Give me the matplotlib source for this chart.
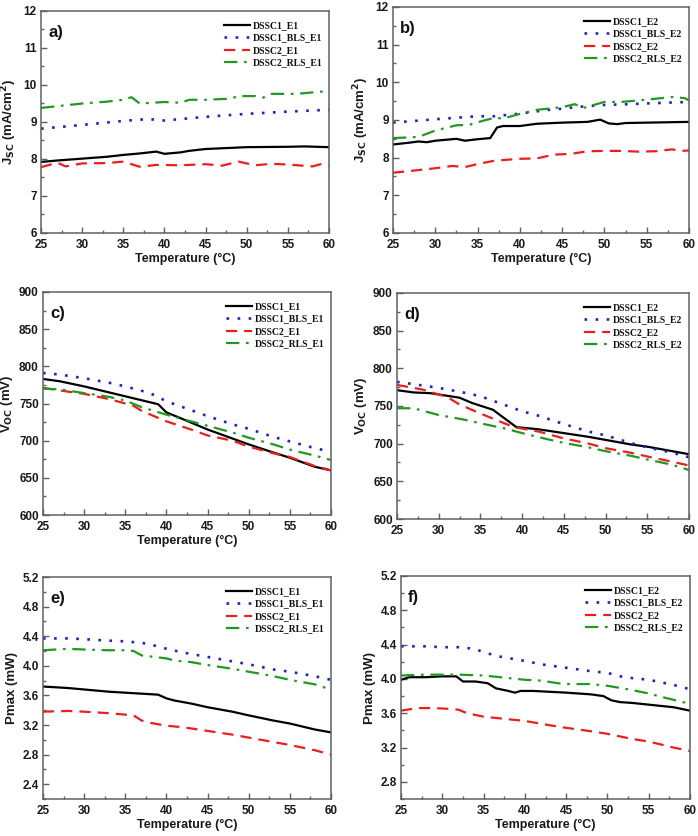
import matplotlib
matplotlib.use("Agg")
import matplotlib.pyplot as plt
from matplotlib.ticker import MultipleLocator, FuncFormatter

# ---------------- data ----------------
# Panel a: Jsc, E1
a_black_x = [25, 27, 30, 33, 35, 37, 39, 40, 42, 43, 45, 48, 50, 55, 57, 60]
a_black_y = [7.92, 7.96, 8.01, 8.06, 8.11, 8.15, 8.20, 8.14, 8.18, 8.22, 8.27, 8.30, 8.32, 8.33, 8.34, 8.32]
a_blue_x = [25, 30, 35, 38, 40, 45, 50, 55, 60]
a_blue_y = [8.82, 8.92, 9.03, 9.08, 9.04, 9.14, 9.22, 9.28, 9.33]
a_red_x = [25, 27, 28, 30, 33, 35, 37, 39, 42, 45, 47, 49, 51, 53, 55, 58, 59, 60]
a_red_y = [7.78, 7.90, 7.80, 7.88, 7.89, 7.93, 7.79, 7.84, 7.83, 7.86, 7.82, 7.93, 7.83, 7.87, 7.85, 7.80, 7.86, 7.83]
a_green_x = [25, 30, 33, 35, 36, 37, 40, 42, 43, 45, 48, 49, 51, 52, 53, 56, 60]
a_green_y = [9.38, 9.50, 9.55, 9.60, 9.67, 9.50, 9.54, 9.52, 9.60, 9.60, 9.63, 9.70, 9.70, 9.66, 9.76, 9.76, 9.84]

# Panel b: Jsc, E2
b_black_x = [25, 27, 28, 29, 30, 32.5, 33.5, 35, 36.5, 37.3, 38, 40, 42, 45, 48, 49.5, 50.5, 51.5, 52.5, 55, 60]
b_black_y = [8.35, 8.40, 8.43, 8.41, 8.45, 8.50, 8.45, 8.49, 8.52, 8.80, 8.84, 8.84, 8.90, 8.93, 8.95, 9.01, 8.91, 8.89, 8.92, 8.93, 8.95]
b_blue_x = [25, 30, 35, 37, 40, 43, 45, 47, 50, 53, 55, 60]
b_blue_y = [8.93, 9.02, 9.10, 9.10, 9.17, 9.26, 9.30, 9.35, 9.40, 9.42, 9.44, 9.48]
b_red_x = [25, 28, 30, 32, 33.5, 35, 37, 40, 42, 44, 46, 48, 50, 52, 54, 56, 58, 59, 60]
b_red_y = [7.60, 7.67, 7.72, 7.78, 7.75, 7.83, 7.92, 7.97, 7.98, 8.08, 8.10, 8.17, 8.18, 8.18, 8.16, 8.17, 8.22, 8.18, 8.19]
b_green_x = [25, 28, 30, 32.5, 34, 35, 37, 38, 40, 42, 45, 46.5, 47.5, 50, 52, 55, 58, 59.5, 60]
b_green_y = [8.52, 8.55, 8.72, 8.86, 8.87, 8.94, 9.06, 9.04, 9.16, 9.27, 9.34, 9.42, 9.32, 9.48, 9.48, 9.54, 9.61, 9.58, 9.52]

# Panel c: Voc, E1
c_black_x = [25, 27, 30, 33, 36, 39, 40, 42, 45, 47, 50, 53, 55, 58, 60]
c_black_y = [783, 780, 773, 765, 757, 749, 738, 729, 715, 707, 695, 684, 677, 665, 660]
c_blue_x = [25, 27, 30, 33, 35, 38, 40, 42, 45, 48, 50, 53, 55, 58, 60]
c_blue_y = [791, 789, 784, 778, 773, 764, 753, 745, 733, 722, 716, 705, 699, 690, 685]
c_red_x = [25, 28, 30, 33, 36, 37, 40, 43, 45, 48, 50, 53, 55, 58, 60]
c_red_y = [771, 766, 763, 756, 747, 740, 726, 715, 707, 700, 692, 683, 678, 666, 660]
c_green_x = [25, 27, 30, 33, 35, 37, 40, 42, 45, 48, 50, 53, 55, 58, 60]
c_green_y = [770, 769, 764, 759, 754, 745, 735, 729, 720, 711, 704, 695, 688, 680, 674]

# Panel d: Voc, E2
d_black_x = [25, 27, 29, 32.5, 34, 36.5, 39.3, 42, 45, 48, 50, 53, 55, 58, 60]
d_black_y = [771, 768, 767, 761, 754, 745, 722, 719, 714, 709, 705, 699, 696, 690, 686]
d_blue_x = [25, 27, 30, 32.5, 35, 37, 40, 42, 45, 48, 50, 53, 55, 58, 60]
d_blue_y = [782, 779, 774, 769, 763, 755, 743, 737, 726, 716, 711, 701, 695, 688, 682]
d_red_x = [25, 28, 31, 32.5, 35, 37, 39, 42, 45, 48, 50, 53, 55, 58, 60]
d_red_y = [778, 772, 762, 752, 740, 731, 722, 716, 707, 700, 694, 688, 683, 676, 671]
d_green_x = [25, 27, 28, 30, 33, 35, 38, 40, 43, 45, 48, 50, 53, 55, 58, 60]
d_green_y = [747, 747, 744, 738, 732, 727, 720, 714, 706, 701, 695, 690, 684, 679, 672, 665]

# Panel e: Pmax, E1
e_black_x = [25, 28, 30, 33, 36, 39, 40, 41, 43, 45, 48, 50, 53, 55, 58, 60]
e_black_y = [3.72, 3.70, 3.68, 3.65, 3.63, 3.61, 3.56, 3.53, 3.49, 3.44, 3.38, 3.33, 3.26, 3.22, 3.14, 3.10]
e_blue_x = [25, 28, 30, 33, 35, 37, 38, 40, 42, 45, 48, 50, 53, 55, 58, 60]
e_blue_y = [4.37, 4.37, 4.36, 4.34, 4.33, 4.31, 4.29, 4.23, 4.18, 4.12, 4.06, 4.02, 3.95, 3.92, 3.86, 3.81]
e_red_x = [25, 28, 30, 33, 35, 36, 37, 38, 40, 42, 45, 48, 50, 53, 55, 58, 60]
e_red_y = [3.38, 3.39, 3.38, 3.36, 3.34, 3.33, 3.26, 3.23, 3.19, 3.17, 3.12, 3.07, 3.03, 2.97, 2.93, 2.86, 2.80]
e_green_x = [25, 28, 30, 33, 35, 36, 37, 40, 41, 43, 45, 48, 50, 53, 55, 58, 60]
e_green_y = [4.21, 4.23, 4.22, 4.21, 4.21, 4.20, 4.14, 4.10, 4.07, 4.05, 4.01, 3.96, 3.92, 3.86, 3.81, 3.75, 3.68]

# Panel f: Pmax, E2
f_black_x = [25, 26, 28, 30, 31.7, 32.5, 34, 35.5, 36.5, 38, 38.8, 39.5, 41, 43, 45, 48, 49.5, 50.5, 51.5, 53, 55, 57, 58, 60]
f_black_y = [3.99, 4.02, 4.02, 4.03, 4.03, 3.97, 3.97, 3.95, 3.89, 3.86, 3.84, 3.86, 3.86, 3.85, 3.84, 3.82, 3.80, 3.75, 3.73, 3.72, 3.70, 3.68, 3.67, 3.63]
f_blue_x = [25, 28, 30, 32, 34, 35, 37, 40, 42, 45, 48, 50, 52, 55, 58, 60]
f_blue_y = [4.38, 4.38, 4.37, 4.37, 4.35, 4.31, 4.26, 4.21, 4.17, 4.13, 4.09, 4.07, 4.02, 3.99, 3.93, 3.88]
f_red_x = [25, 27, 29, 31, 32, 33, 35, 37, 40, 43, 45, 48, 50, 53, 55, 58, 60]
f_red_y = [3.63, 3.66, 3.66, 3.65, 3.64, 3.60, 3.56, 3.54, 3.51, 3.46, 3.43, 3.39, 3.36, 3.30, 3.27, 3.20, 3.16]
f_green_x = [25, 28, 30, 32, 35, 37, 38, 40, 42, 44, 45, 48, 50, 53, 55, 57, 60]
f_green_y = [4.04, 4.05, 4.05, 4.05, 4.04, 4.02, 4.01, 3.99, 3.98, 3.95, 3.94, 3.94, 3.92, 3.87, 3.83, 3.78, 3.71]

labels_E1 = ["DSSC1_E1", "DSSC1_BLS_E1", "DSSC2_E1", "DSSC2_RLS_E1"]
labels_E2 = ["DSSC1_E2", "DSSC1_BLS_E2", "DSSC2_E2", "DSSC2_RLS_E2"]
panel_tags = ["a)", "b)", "c)", "d)", "e)", "f)"]
xlabel = "Temperature (\u00b0C)"
ylabels = ["J$_{\\mathbf{SC}}$ (mA/cm$^{\\mathbf{2}}$)", "V$_{\\mathbf{OC}}$ (mV)", "Pmax (mW)"]

# ---------------- style ----------------
colors = ["black", "#1f1fd6", "#ee1c1c", "#1f9a1f"]
styles = ["-", (0, (1, 3.2)), (0, (5, 3.2)), (0, (6, 3, 1.2, 3))]
widths = [1.6, 1.9, 1.6, 1.6]

W, H = 698, 836
fig = plt.figure(figsize=(W / 100, H / 100), dpi=100)

def pos(l, t, r, b):
    return [l / W, 1 - b / H, (r - l) / W, (b - t) / H]

panels = [
    dict(rect=pos(41, 11, 329, 233), data=[(a_black_x, a_black_y), (a_blue_x, a_blue_y), (a_red_x, a_red_y), (a_green_x, a_green_y)],
         labels=labels_E1, ylim=(6, 12), major=1, minor=0.5, ylab=ylabels[0], xlab=True, fmt="{:.0f}"),
    dict(rect=pos(393, 7, 689, 233), data=[(b_black_x, b_black_y), (b_blue_x, b_blue_y), (b_red_x, b_red_y), (b_green_x, b_green_y)],
         labels=labels_E2, ylim=(6, 12), major=1, minor=0.5, ylab=ylabels[0], xlab=True, fmt="{:.0f}"),
    dict(rect=pos(43, 292, 331, 515), data=[(c_black_x, c_black_y), (c_blue_x, c_blue_y), (c_red_x, c_red_y), (c_green_x, c_green_y)],
         labels=labels_E1, ylim=(600, 900), major=50, minor=25, ylab=ylabels[1], xlab=True, fmt="{:.0f}"),
    dict(rect=pos(397, 293, 689, 519), data=[(d_black_x, d_black_y), (d_blue_x, d_blue_y), (d_red_x, d_red_y), (d_green_x, d_green_y)],
         labels=labels_E2, ylim=(600, 900), major=50, minor=25, ylab=ylabels[1], xlab=False, fmt="{:.0f}"),
    dict(rect=pos(43, 577, 331, 799), data=[(e_black_x, e_black_y), (e_blue_x, e_blue_y), (e_red_x, e_red_y), (e_green_x, e_green_y)],
         labels=labels_E1, ylim=(2.2, 5.2), major=0.4, minor=0.2, ylab=ylabels[2], xlab=True, fmt="{:.1f}"),
    dict(rect=pos(401, 576, 690, 799), data=[(f_black_x, f_black_y), (f_blue_x, f_blue_y), (f_red_x, f_red_y), (f_green_x, f_green_y)],
         labels=labels_E2, ylim=(2.6, 5.2), major=0.4, minor=0.2, ylab=ylabels[2], xlab=True, fmt="{:.1f}"),
]

sans = "Liberation Sans"
serif = "Liberation Serif"
spine_col = "#606060"

for i, p in enumerate(panels):
    ax = fig.add_axes(p["rect"])
    for (x, y), c, ls, lw, lab in zip(p["data"], colors, styles, widths, p["labels"]):
        ax.plot(x, y, color=c, linestyle=ls, linewidth=lw, label=lab)
    ax.set_xlim(25, 60)
    ax.set_ylim(*p["ylim"])
    ax.xaxis.set_major_locator(MultipleLocator(5))
    ax.xaxis.set_minor_locator(MultipleLocator(2.5))
    ax.yaxis.set_major_locator(MultipleLocator(p["major"]))
    ax.yaxis.set_minor_locator(MultipleLocator(p["minor"]))
    ax.tick_params(which="both", direction="in", top=False, right=False, color=spine_col, width=1.0)
    ax.tick_params(which="major", length=4)
    ax.tick_params(axis="x", which="major", pad=4)
    ax.tick_params(axis="y", which="major", pad=3)
    ax.tick_params(which="minor", length=2)
    fmt = p["fmt"]
    ax.yaxis.set_major_formatter(FuncFormatter(lambda v, _, f=fmt: f.format(v)))
    for lbl in ax.get_xticklabels() + ax.get_yticklabels():
        lbl.set_fontfamily(sans)
        lbl.set_fontweight("bold")
        lbl.set_fontsize(8.5)
        lbl.set_color("#1a1a1a")
    for s in ax.spines.values():
        s.set_color(spine_col)
        s.set_linewidth(1.1)
    if p["xlab"]:
        ax.set_xlabel(xlabel, fontfamily=sans, fontweight="bold", fontsize=9, labelpad=2, color="#1a1a1a")
    ax.set_ylabel(p["ylab"], fontfamily=sans, fontweight="bold", fontsize=9.5, labelpad=3, color="#1a1a1a")
    ax.text(0.025, 0.905, panel_tags[i], transform=ax.transAxes, fontfamily=sans, fontweight="bold",
            fontsize=12, va="center", ha="left", color="#111111")
    leg = ax.legend(loc="upper right", bbox_to_anchor=(1.0, 0.985), frameon=False,
                    prop=dict(family=serif, weight="bold", size=7), handlelength=2.6,
                    handletextpad=0.3, labelspacing=0.35, borderaxespad=0.3)
    for t in leg.get_texts():
        t.set_color("#111111")

fig.savefig("out.png", dpi=100)
